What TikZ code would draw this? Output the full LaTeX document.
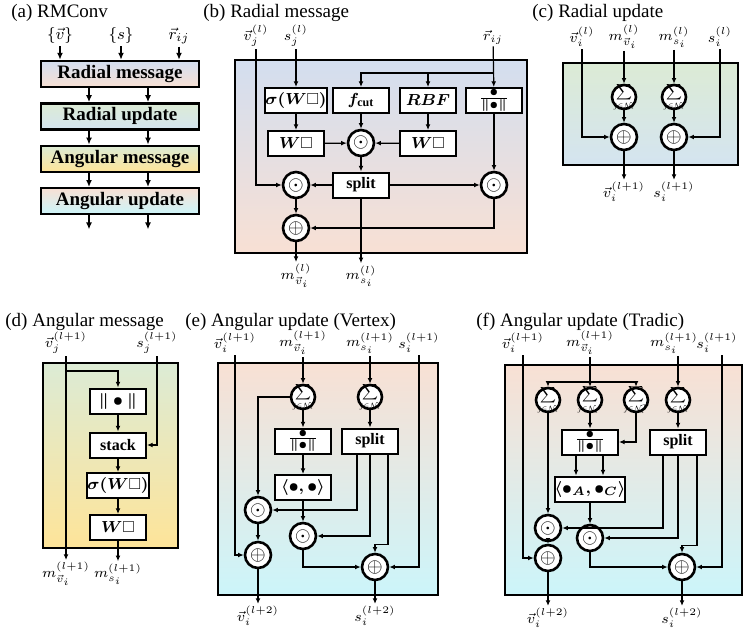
\documentclass[tikz,border=0pt]{standalone}
\usepackage{amsmath,amssymb,graphicx}
\usepackage{fontspec}
\setmainfont{Liberation Serif}
\usetikzlibrary{arrows.meta,positioning,calc}
\definecolor{RmBlue}{HTML}{D3DEEF}
\definecolor{RmPeach}{HTML}{F8E0D4}
\definecolor{RmGreen}{HTML}{DCEBD5}
\definecolor{RmSky}{HTML}{D4E4F0}
\definecolor{RmYellow}{HTML}{FEE499}
\definecolor{RmCyan}{HTML}{CCF5FA}
\newcommand{\sumN}[1]{\makebox[0pt]{\smash{\raisebox{-2.5pt}{$\vcenter{\hbox{\scalebox{0.55}{$\displaystyle\sum_{j\in\mathcal{N}_i#1}$}}}$}}}}

\begin{document}
\begin{tikzpicture}[x=0.5pt,y=-0.5pt,
  panel/.style={draw=black,line width=1.3pt},
  blk/.style={draw,line width=1.2pt,minimum width=79pt,minimum height=13pt,inner sep=0pt,
    font=\fontsize{9.5}{11}\selectfont\bfseries},
  opbox/.style={draw,line width=1pt,fill=white,minimum width=28pt,minimum height=12.5pt,
    inner sep=0pt,font=\fontsize{8}{9}\selectfont\bfseries\boldmath},
  dotc/.style={circle,draw,line width=1.3pt,fill=white,minimum size=13pt,inner sep=0pt},
  sumc/.style={circle,draw,line width=1.3pt,fill=white,minimum size=12pt,inner sep=0pt},
  lbl/.style={inner sep=1pt,font=\fontsize{7}{8}\selectfont},
  ttl/.style={anchor=west,inner sep=0pt,font=\fontsize{9.5}{11}\selectfont},
  arr/.style={-{Latex[length=2.8pt,width=2.4pt]},line width=0.6pt},
  bigarr/.style={-{Latex[length=3.5pt,width=3pt]},line width=0.9pt}
]
\useasboundingbox (0,0) rectangle (747,636);

% (a)
\node[ttl] (ta) at (11,13) {(a) RMConv};
\node[lbl,font=\fontsize{8}{9}\selectfont] (va) at (60,36) {$\{\vec v\}$};
\node[lbl,font=\fontsize{8}{9}\selectfont] (sa) at (121,36) {$\{s\}$};
\node[lbl,font=\fontsize{8}{9}\selectfont] (ra) at (179,36) {$\vec r_{ij}$};
\node[blk,top color=RmBlue,bottom color=RmPeach] (rmsg) at (120,74) {Radial message};
\node[blk,top color=RmGreen,bottom color=RmSky,below=7pt of rmsg] (rupd) {Radial update};
\node[blk,top color=RmGreen,bottom color=RmYellow,below=7pt of rupd] (amsg) {Angular message};
\node[blk,top color=RmPeach,bottom color=RmCyan,below=7pt of amsg] (aupd) {Angular update};
\draw[bigarr] (va) -- (va |- rmsg.north);
\draw[bigarr] (sa) -- (sa |- rmsg.north);
\draw[bigarr] (ra) -- (ra |- rmsg.north);
\draw[bigarr] ([xshift=-15.5pt]rmsg.south) -- ([xshift=-15.5pt]rupd.north);
\draw[bigarr] ([xshift=14pt]rmsg.south) -- ([xshift=14pt]rupd.north);
\draw[bigarr] ([xshift=-15.5pt]rupd.south) -- ([xshift=-15.5pt]amsg.north);
\draw[bigarr] ([xshift=14pt]rupd.south) -- ([xshift=14pt]amsg.north);
\draw[bigarr] ([xshift=-15.5pt]amsg.south) -- ([xshift=-15.5pt]aupd.north);
\draw[bigarr] ([xshift=14pt]amsg.south) -- ([xshift=14pt]aupd.north);
\coordinate (oa1) at ([xshift=-15.5pt,yshift=-7pt]aupd.south);
\coordinate (oa2) at ([xshift=14pt,yshift=-7pt]aupd.south);
\draw[bigarr] ([xshift=-15.5pt]aupd.south) -- (oa1);
\draw[bigarr] ([xshift=14pt]aupd.south) -- (oa2);

% (b)
\node[ttl] (tb) at (203,13) {(b) Radial message};
\draw[panel,top color=RmBlue,bottom color=RmPeach] (235,60) rectangle (527,253);
\node[lbl] (vjb) at (256,36) {$\vec v_j^{(l)}$};
\node[lbl] (sjb) at (296,36) {$s_j^{(l)}$};
\node[lbl] (rb) at (493,37) {$\vec r_{ij}$};
\node[opbox] (sigb) at (296,100.5) {$\sigma(W\square)$};
\node[opbox] (fcut) at (361,100.5) {$f_{\mathrm{cut}}$};
\node[opbox] (rbf) at (428,100.5) {$RBF$};
\node[opbox] (nrmb) at (494,100.5) {$\frac{\bullet}{\|\bullet\|}$};
\node[opbox] (wlb) at (296,143.5) {$W\square$};
\node[dotc] (odb) at (361,143) {$\odot$};
\node[opbox] (wrb) at (428,143.5) {$W\square$};
\node[dotc] (od1) at (296,185) {$\odot$};
\node[opbox] (spb) at (361,185) {split};
\node[dotc] (od2) at (494,185) {$\odot$};
\node[dotc] (opb) at (296,228) {$\oplus$};
\node[lbl] (mvb) at (296,276) {$m_{\vec v_i}^{(l)}$};
\node[lbl] (msb) at (361,276) {$m_{s_i}^{(l)}$};
\coordinate (rjn) at (494,73);
\draw[arr] (rb) -- (nrmb);
\draw[arr] (rjn) -| (fcut);
\draw[arr] (rjn -| rbf) -- (rbf);
\draw[arr] (sjb) -- (sigb);
\draw[arr] (sigb) -- (wlb);
\draw[arr] (fcut) -- (odb);
\draw[arr] (rbf) -- (wrb);
\draw[arr] (wlb) -- (odb);
\draw[arr] (wrb) -- (odb);
\draw[arr] (odb) -- (spb);
\draw[arr] (spb) -- (od1);
\draw[arr] (spb) -- (od2);
\draw[arr] (nrmb) -- (od2);
\draw[arr] (vjb) |- (od1);
\draw[arr] (od1) -- (opb);
\draw[arr] (od2) |- (opb);
\draw[arr] (opb) -- (mvb);
\draw[arr] (spb) -- (msb);

% (c)
\node[ttl] (tc) at (532,13) {(c) Radial update};
\draw[panel,top color=RmGreen,bottom color=RmSky] (563,63) rectangle (738,165);
\node[lbl] (vic) at (582,37) {$\vec v_i^{(l)}$};
\node[lbl] (mvc) at (624,37) {$m_{\vec v_i}^{(l)}$};
\node[lbl] (msc) at (674,37) {$m_{s_i}^{(l)}$};
\node[lbl] (sic) at (720,37) {$s_i^{(l)}$};
\node[sumc] (sc1) at (624,97) {\sumN{}};
\node[sumc] (sc2) at (674,97) {\sumN{}};
\node[dotc] (pc1) at (624,137) {$\oplus$};
\node[dotc] (pc2) at (674,137) {$\oplus$};
\node[lbl] (vc2) at (624,192) {$\vec v_i^{(l+1)}$};
\node[lbl] (sc3) at (674,192) {$s_i^{(l+1)}$};
\draw[arr] (mvc) -- (sc1);
\draw[arr] (msc) -- (sc2);
\draw[arr] (sc1) -- (pc1);
\draw[arr] (sc2) -- (pc2);
\draw[arr] (vic) |- (pc1);
\draw[arr] (sic) |- (pc2);
\draw[arr] (pc1) -- (vc2);
\draw[arr] (pc2) -- (sc3);

% (d)
\node[ttl] (td) at (5,322) {(d) Angular message};
\draw[panel,top color=RmGreen,bottom color=RmYellow] (43,363) rectangle (178,548);
\node[lbl] (vjd) at (66,343) {$\vec v_j^{(l+1)}$};
\node[lbl] (sjd) at (157,343) {$s_j^{(l+1)}$};
\node[opbox] (nrmd) at (118,401) {$\|\bullet\|$};
\node[opbox] (stk) at (118,445) {stack};
\node[opbox] (sigd) at (118,485.5) {$\sigma(W\square)$};
\node[opbox] (wd) at (118,527.5) {$W\square$};
\node[lbl] (mvd) at (66,574) {$m_{\vec v_i}^{(l+1)}$};
\node[lbl] (msd) at (118,574) {$m_{s_i}^{(l+1)}$};
\coordinate (vbr) at (66,371);
\draw[arr] (vjd) -- (mvd);
\draw[arr] (vbr) -| (nrmd);
\draw[arr] (nrmd) -- (stk);
\draw[arr] (sjd) |- (stk);
\draw[arr] (stk) -- (sigd);
\draw[arr] (sigd) -- (wd);
\draw[arr] (wd) -- (msd);

% (e)
\node[ttl] (te) at (185,322) {(e) Angular update (Vertex)};
\draw[panel,top color=RmPeach,bottom color=RmCyan] (218,363) rectangle (438,595);
\node[lbl] (vie) at (235,343) {$\vec v_i^{(l+1)}$};
\node[lbl] (mve) at (303,343) {$m_{\vec v_i}^{(l+1)}$};
\node[lbl] (mse) at (370,343) {$m_{s_i}^{(l+1)}$};
\node[lbl] (sie) at (419,343) {$s_i^{(l+1)}$};
\node[sumc] (se1) at (303,397) {\sumN{}};
\node[sumc] (se2) at (370,397) {\sumN{}};
\node[opbox] (fre) at (303,441) {$\frac{\bullet}{\|\bullet\|}$};
\node[opbox] (spe) at (370,441) {split};
\node[opbox] (ipe) at (303,487.5) {$\langle\bullet,\bullet\rangle$};
\node[dotc] (ode1) at (258,510) {$\odot$};
\node[dotc] (ode2) at (303,536) {$\odot$};
\node[dotc] (pe1) at (258,555) {$\oplus$};
\node[dotc] (pe2) at (375,567) {$\oplus$};
\node[lbl] (ve3) at (258,616) {$\vec v_i^{(l+2)}$};
\node[lbl] (se3) at (375,616) {$s_i^{(l+2)}$};
\draw[arr] (mve) -- (se1);
\draw[arr] (mse) -- (se2);
\draw[arr] (se1) -- (fre);
\draw[arr] (se2) -- (spe);
\draw[arr] (fre) -- (ipe);
\draw[arr] (ipe) -- (ode2);
\draw[arr] (se1) -| (ode1);
\draw[arr] ([xshift=-6.5pt]spe.south) |- (ode1);
\draw[arr] (spe.south) |- (ode2);
\draw[arr] ([xshift=9pt]spe.south) -- ++(0,90) -| (pe2);
\draw[arr] (ode1) -- (pe1);
\draw[arr] (vie) |- (pe1);
\draw[arr] (ode2) |- (pe2);
\draw[arr] (sie) |- (pe2);
\draw[arr] (pe1) -- (ve3);
\draw[arr] (pe2) -- (se3);

% (f)
\node[ttl] (tf) at (476,322) {(f) Angular update (Tradic)};
\draw[panel,top color=RmPeach,bottom color=RmCyan] (505,365) rectangle (742,595);
\node[lbl] (vif) at (523,343) {$\vec v_i^{(l+1)}$};
\node[lbl] (mvf) at (590,343) {$m_{\vec v_i}^{(l+1)}$};
\node[lbl] (msf) at (674,343) {$m_{s_i}^{(l+1)}$};
\node[lbl] (sif) at (717,343) {$s_i^{(l+1)}$};
\node[sumc] (sf1) at (548,400) {\sumN{}};
\node[sumc] (sf2) at (590,400) {\sumN{^A}};
\node[sumc] (sf3) at (636,400) {\sumN{^T}};
\node[sumc] (sf4) at (678,400) {\sumN{}};
\node[opbox] (frf) at (590,442) {$\frac{\bullet}{\|\bullet\|}$};
\node[opbox] (spf) at (678,442) {split};
\node[opbox] (ipf) at (590,489) {$\langle\bullet_A,\bullet_C\rangle$};
\node[dotc] (odf1) at (548,528) {$\odot$};
\node[dotc] (odf2) at (590,538) {$\odot$};
\node[dotc] (pf1) at (548,558) {$\oplus$};
\node[dotc] (pf2) at (682,567) {$\oplus$};
\node[lbl] (vf3) at (548,618) {$\vec v_i^{(l+2)}$};
\node[lbl] (sf5) at (682,618) {$s_i^{(l+2)}$};
\coordinate (mbr) at (590,382);
\draw[arr] (mvf) -- (sf2);
\draw[arr] (mbr) -| (sf1);
\draw[arr] (mbr) -| (sf3);
\draw[arr] (msf.south -| sf4) -- (sf4);
\draw[arr] (sf2) -- (frf);
\draw[arr] (sf3) |- (frf);
\draw[arr] (sf4) -- (spf);
\draw[arr] ([xshift=-7pt]frf.south) -- ([xshift=-7pt]ipf.north);
\draw[arr] ([xshift=6.5pt]frf.south) -- ([xshift=6.5pt]ipf.north);
\draw[arr] (sf1) -- (odf1);
\draw[arr] (ipf) -- (odf2);
\draw[arr] ([xshift=-7.5pt]spf.south) |- (odf1);
\draw[arr] (spf.south) |- (odf2);
\draw[arr] ([xshift=9.5pt]spf.south) -- ++(0,90) -| (pf2);
\draw[arr] (odf1) -- (pf1);
\draw[arr] (vif.south) |- (pf1);
\draw[arr] (odf2) |- (pf2);
\draw[arr] (sif.south -| 722,0) |- (pf2);
\draw[arr] (pf1) -- (vf3);
\draw[arr] (pf2) -- (sf5);
\end{tikzpicture}
\end{document}
